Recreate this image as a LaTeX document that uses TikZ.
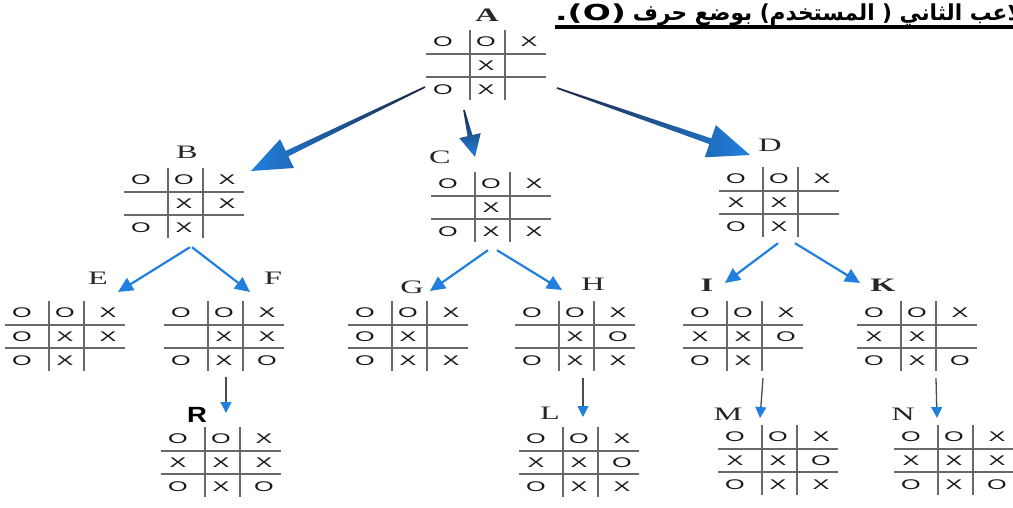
\documentclass[tikz,border=0pt]{standalone}
\usepackage{fontspec}
\usepackage{graphicx}
\setmainfont{Liberation Serif}
\newfontfamily\markfont{Liberation Sans}
\newfontfamily\arabicfont[Script=Arabic]{DejaVu Sans}
\usetikzlibrary{arrows.meta,calc}
\TeXXeTstate=1
\definecolor{arrowblue}{RGB}{33,128,222}
\definecolor{arrowdark}{RGB}{28,40,70}
\definecolor{gridgray}{RGB}{105,105,105}
\newcommand\wideL[1]{\scalebox{1.7}[1]{#1}}
\newcommand\wideM[1]{\scalebox{1.8}[1]{#1}}
\tikzset{
  boardbox/.style={minimum width=122pt, minimum height=72pt, inner sep=0pt},
  gridline/.style={draw=gridgray, line width=1.3pt},
  markstyle/.style={inner sep=0pt, font=\markfont\fontsize{14}{14}\selectfont, text=black!90},
  lbl/.style={inner sep=0pt, font=\fontsize{19}{19}\selectfont, text=black!85},
  lblbold/.style={lbl, font=\bfseries\fontsize{19}{19}\selectfont},
  thinarrow/.style={draw=arrowblue, line width=2.2pt, -{Triangle[length=15pt,width=14pt]}},
  downarrow/.style={draw=gray!60!black, line width=1.3pt, -{Triangle[length=11pt,width=11pt,color=arrowblue]}},
}
\newcommand\tttboard[3]{%
  \node[boardbox] (#1) at (#2) {};
  \draw[gridline] ($(#1.center)+(-61,-12)$) -- ($(#1.center)+(59,-12)$);
  \draw[gridline] ($(#1.center)+(-61,11)$) -- ($(#1.center)+(59,11)$);
  \draw[gridline] ($(#1.center)+(-17,-36)$) -- ($(#1.center)+(-17,34)$);
  \draw[gridline] ($(#1.center)+(18,-36)$) -- ($(#1.center)+(18,34)$);
  \foreach \m [count=\i from 0] in {#3} {%
    \pgfmathtruncatemacro\rr{div(\i,3)}%
    \pgfmathtruncatemacro\cc{mod(\i,3)}%
    \node[markstyle] (#1-\i) at ($(#1.center)+({-44+43*\cc},{-24+24*\rr})$) {\wideM{\m}};
  }%
}
% start, tip, head length, head half width, shaft half width at head, shading options
\newcommand\bigarrow[6]{%
  \coordinate (#1-hb) at ($(#2)!#3!(#1)$);
  \shade[#6] ($(#1)!0.8pt!90:(#2)$) -- ($(#1-hb)!#5!-90:(#1)$) -- ($(#1-hb)!#4!-90:(#1)$) -- (#2)
    -- ($(#1-hb)!#4!90:(#1)$) -- ($(#1-hb)!#5!90:(#1)$) -- ($(#1)!0.8pt!-90:(#2)$) -- cycle;
}
\begin{document}
\begin{tikzpicture}[x=1pt,y=-1pt]
\useasboundingbox (0,0) rectangle (1013,508);
\fill[white] (0,0) rectangle (1013,508);

% header line
\node[anchor=base west, inner sep=0pt, font=\arabicfont\bfseries\fontsize{22}{22}\selectfont] (hdr) at (555,21)
  {\scalebox{1.5}[1]{.(O)}\hspace{7pt}\scalebox{0.985}[1]{\beginR اللاعب الثاني ( المستخدم) بوضع حرف\endR}};
\draw[line width=3.5pt] ($(hdr.base west)+(0,6)$) -- ($(hdr.base east)+(0,6)$);

% boards
\tttboard{bA}{487,66}{O,O,X,{},X,{},O,X,{}}
\tttboard{bB}{185,204}{O,O,X,{},X,X,O,X,{}}
\tttboard{bC}{492,208}{O,O,X,{},X,{},O,X,X}
\tttboard{bD}{780,203}{O,O,X,X,X,{},O,X,{}}
\tttboard{bE}{66,337}{O,O,X,O,X,X,O,X,{}}
\tttboard{bF}{225,337}{O,O,X,{},X,X,O,X,O}
\tttboard{bG}{409,337}{O,O,X,O,X,{},O,X,X}
\tttboard{bH}{576,337}{O,O,X,{},X,O,O,X,X}
\tttboard{bI}{744,337}{O,O,X,X,X,O,O,X,{}}
\tttboard{bK}{918,337}{O,O,X,X,X,{},O,X,O}
\tttboard{bR}{222,463}{O,O,X,X,X,X,O,X,O}
\tttboard{bL}{580,463}{O,O,X,X,X,O,O,X,X}
\tttboard{bM}{779,461}{O,O,X,X,X,O,O,X,X}
\tttboard{bN}{955,461}{O,O,X,X,X,X,O,X,O}

% labels
\node[lblbold] (lA) at (487,15) {\wideL{A}};
\node[lbl] (lB) at (187,152) {\wideL{B}};
\node[lbl] (lC) at (440,157) {\wideL{C}};
\node[lbl] (lD) at (770,145) {\wideL{D}};
\node[lbl] (lE) at (98,278) {\wideL{E}};
\node[lbl] (lF) at (273,278) {\wideL{F}};
\node[lbl] (lG) at (412,287) {\wideL{G}};
\node[lbl] (lH) at (593,284) {\wideL{H}};
\node[lblbold] (lI) at (707,285) {\wideL{I}};
\node[lblbold] (lK) at (883,285) {\wideL{K}};
\node[inner sep=0pt, font=\markfont\bfseries\fontsize{22}{22}\selectfont] (lR) at (197,415) {\scalebox{1.25}[1]{R}};
\node[lbl] (lL) at (550,413) {\wideL{L}};
\node[lbl] (lM) at (728,414) {\wideL{M}};
\node[lbl] (lN) at (903,414) {\wideL{N}};

% big arrows from A
\coordinate (sAB) at ($(bA.center)+(-62,21)$);
\coordinate (tAB) at ($(lB)+(64,19)$);
\coordinate (sAC) at ($(bA.center)+(-23,44)$);
\coordinate (tAC) at ($(lC)+(35,0)$);
\coordinate (sAD) at ($(bA.center)+(70,22)$);
\coordinate (tAD) at ($(lD)+(-20,10)$);
\bigarrow{sAB}{tAB}{40pt}{16pt}{3pt}{left color=arrowblue, middle color=arrowblue, right color=arrowdark}
\bigarrow{sAC}{tAC}{22pt}{11pt}{2.5pt}{top color=arrowdark, middle color=arrowblue, bottom color=arrowblue}
\bigarrow{sAD}{tAD}{42pt}{17pt}{3pt}{left color=arrowdark, middle color=arrowblue, right color=arrowblue}

% thin arrows
\coordinate (sBE) at ($(bB.south)+(5,7)$);
\coordinate (sBF) at ($(bB.south)+(7,7)$);
\coordinate (sCG) at ($(bC.south)+(-4,6)$);
\coordinate (sCH) at ($(bC.south)+(5,6)$);
\coordinate (sDI) at ($(bD.south)+(-2,4)$);
\coordinate (sDK) at ($(bD.south)+(15,4)$);
\draw[thinarrow] (sBE) -- ($(lE)+(20,14)$) coordinate (tBE);
\draw[thinarrow] (sBF) -- ($(lF)+(-23,14)$) coordinate (tBF);
\draw[thinarrow] (sCG) -- ($(lG)+(18,4)$) coordinate (tCG);
\draw[thinarrow] (sCH) -- ($(lH)+(-31,6)$) coordinate (tCH);
\draw[thinarrow] (sDI) -- ($(lI)+(18,-2)$) coordinate (tDI);
\draw[thinarrow] (sDK) -- ($(lK)+(-23,-2)$) coordinate (tDK);

% down arrows
\coordinate (sFR) at ($(bF.south)+(1,4)$);
\coordinate (sHL) at ($(bH.south)+(7,5)$);
\coordinate (sIM) at ($(bI.south)+(19,5)$);
\coordinate (sKN) at ($(bK.south)+(18,5)$);
\draw[downarrow] (sFR) -- ($(lR)+(29,-2)$) coordinate (tFR);
\draw[downarrow] (sHL) -- ($(lL)+(33,4)$) coordinate (tHL);
\draw[downarrow] (sIM) -- ($(lM)+(32,4)$) coordinate (tIM);
\draw[downarrow] (sKN) -- ($(lN)+(34,4)$) coordinate (tKN);
\end{tikzpicture}
\end{document}
